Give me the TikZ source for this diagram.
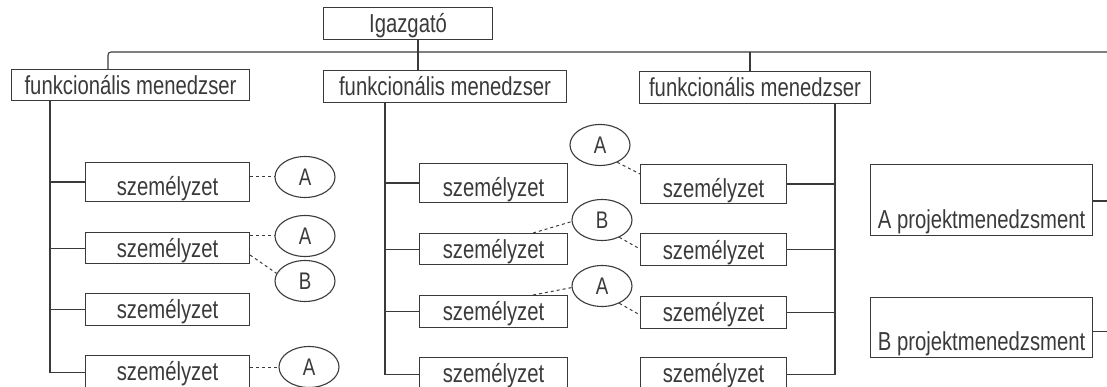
\documentclass[tikz,border=0pt]{standalone}
\usepackage{fontspec}
\usetikzlibrary{shapes.geometric}
\newfontfamily\plotfont[FakeStretch=0.78]{Liberation Sans}
\definecolor{ink}{HTML}{3A3A3A}
\tikzset{
  ln/.style={draw=ink, line width=1.1pt},
  dsh/.style={draw=ink, line width=1pt, dash pattern=on 3pt off 3pt},
  box/.style={draw=ink, line width=1.1pt, inner sep=0pt, anchor=north west, text=ink,
    font=\plotfont\fontsize{26pt}{30pt}\selectfont},
  ell/.style={draw=ink, line width=1.1pt, ellipse, inner sep=0pt, text=ink,
    minimum width=60pt, minimum height=41pt,
    font=\plotfont\fontsize{24pt}{28pt}\selectfont},
}
\begin{document}
\begin{tikzpicture}[x=1pt,y=-1pt]
\useasboundingbox (0,0) rectangle (1107,387);
\clip (0,0) rectangle (1107,387);
% top
\node[box, minimum width=169pt, text height=25pt, text depth=7pt] (ig) at (323,7) {Igazgató};
\node[box, minimum width=238pt, text height=25pt, text depth=6pt] (fm1) at (11,69) {funkcionális menedzser};
\node[box, minimum width=243pt, text height=25pt, text depth=7pt] (fm2) at (323,70) {funkcionális menedzser};
\node[box, minimum width=231pt, text height=25pt, text depth=7pt] (fm3) at (639,71) {funkcionális menedzser};
\coordinate (busL) at (108,52);
\coordinate (busR) at (1107,52);
\coordinate (igx) at (418,52);
\coordinate (t3) at (750,52);
\coordinate (v1) at (50,0);
\coordinate (v2) at (385,0);
\coordinate (v3) at (835,0);
\draw[ln, rounded corners=3pt] (fm1.north -| busL) -- (busL) -- (busR);
\draw[ln] (ig.south -| igx) -- (fm2.north -| igx);
\draw[ln] (t3) -- (t3 |- fm3.north);
% column 1
\node[box, minimum width=164pt, text height=33pt, text depth=6pt] (c1a) at (85,162) {személyzet};
\node[box, minimum width=164pt, text height=25pt, text depth=6pt] (c1b) at (85,232) {személyzet};
\node[box, minimum width=164pt, text height=25pt, text depth=7pt] (c1c) at (85,293) {személyzet};
\node[box, minimum width=164pt, text height=25pt, text depth=9pt] (c1d) at (85,355) {személyzet};
\draw[ln] (fm1.south -| v1) -- (v1 |- c1d.west) -- (c1d.west);
\foreach \n in {c1a,c1b,c1c} \draw[ln] (v1 |- \n.west) -- (\n.west);
% column 2
\node[box, minimum width=148pt, text height=33pt, text depth=6pt] (c2a) at (419,163) {személyzet};
\node[box, minimum width=148pt, text height=25pt, text depth=6pt] (c2b) at (419,233) {személyzet};
\node[box, minimum width=148pt, text height=25pt, text depth=7pt] (c2c) at (419,295) {személyzet};
\node[box, minimum width=148pt, text height=25pt, text depth=9pt] (c2d) at (419,357) {személyzet};
\draw[ln] (fm2.south -| v2) -- (v2 |- c2d.west) -- (c2d.west);
\foreach \n in {c2a,c2b,c2c} \draw[ln] (v2 |- \n.west) -- (\n.west);
% column 3
\node[box, minimum width=146pt, text height=33pt, text depth=6pt] (c3a) at (640,164) {személyzet};
\node[box, minimum width=146pt, text height=26pt, text depth=6pt] (c3b) at (640,233) {személyzet};
\node[box, minimum width=146pt, text height=25pt, text depth=7pt] (c3c) at (640,296) {személyzet};
\node[box, minimum width=146pt, text height=25pt, text depth=9pt] (c3d) at (640,357) {személyzet};
\draw[ln] (fm3.south -| v3) -- (v3 |- c3d.east) -- (c3d.east);
\foreach \n in {c3a,c3b,c3c} \draw[ln] (v3 |- \n.east) -- (\n.east);
% project managers
\node[box, minimum width=222pt, text height=64pt, text depth=7pt] (pa) at (870,164) {A projektmenedzsment};
\node[box, minimum width=222pt, text height=53pt, text depth=7pt] (pb) at (870,297) {B projektmenedzsment};
\draw[ln] ([yshift=-1pt]pa.east) -- ([yshift=-1pt]pa.east -| busR);
\draw[ln] ([yshift=-4pt]pb.east) -- ([yshift=-4pt]pb.east -| busR);
% ellipses column 1
\node[ell] (e1a) at (305,177) {A};
\node[ell] (e1b) at (305,236) {A};
\node[ell] (e1c) at (305,281) {B};
\node[ell] (e1d) at (309,367) {A};
\draw[dsh] (e1a.west -| c1a.east) -- (e1a.west);
\draw[dsh] (e1b.west -| c1b.east) -- (e1b.west);
\draw[dsh] ([yshift=-7pt]c1b.east) -- (e1c.165);
\draw[dsh] (e1d.west -| c1d.east) -- (e1d.west);
% ellipses middle
\node[ell] (e2a) at (600,145) {A};
\node[ell] (e2b) at (602,220) {B};
\node[ell] (e2c) at (602,286) {A};
\draw[dsh] (e2a.-45) -- ([yshift=-10pt]c3a.north west);
\draw[dsh] ([xshift=-35pt]c2b.north east) -- (e2b.183);
\draw[dsh] (e2b.-45) -- ([yshift=-16pt]c3b.north west);
\draw[dsh] ([xshift=-35pt]c2c.north east) -- (e2c.183);
\draw[dsh] (e2c.-45) -- ([yshift=-19pt]c3c.north west);
\end{tikzpicture}
\end{document}
